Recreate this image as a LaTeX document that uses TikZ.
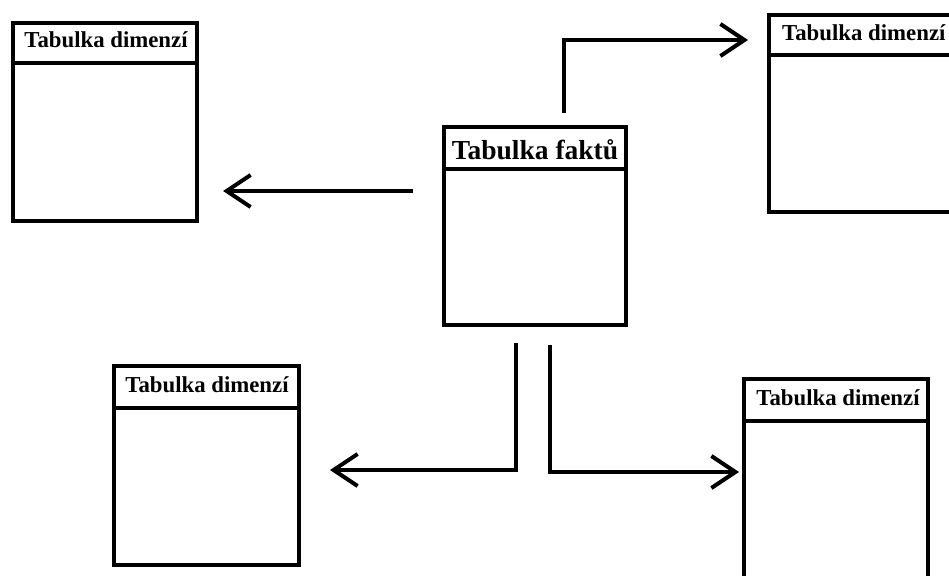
\documentclass[tikz,border=0pt]{standalone}
\usepackage{fontspec}
\setmainfont{Liberation Serif}
\usetikzlibrary{arrows.meta}
\begin{document}
\begin{tikzpicture}[x=1pt,y=-1pt,
  tbl/.style={draw=black, line width=4pt, inner sep=0pt, rectangle},
  divider/.style={draw=black, line width=4pt},
  dimtitle/.style={anchor=base, inner sep=0pt, font=\fontsize{22.8}{22.8}\selectfont\bfseries},
  facttitle/.style={anchor=base, inner sep=0pt, font=\fontsize{27.5}{27.5}\selectfont\bfseries},
  conn/.style={draw=black, line width=4pt, line join=miter, -{Straight Barb[length=24pt,width=32pt]}}]
\useasboundingbox (0,0) rectangle (949,575);
\clip (0,0) rectangle (949,575);
\fill[white] (0,0) rectangle (949,575);
% boxes
\node[tbl, minimum width=184pt, minimum height=198pt] (d1) at (105,122) {};
\node[tbl, minimum width=182pt, minimum height=198pt] (fact) at (535,226) {};
\node[tbl, minimum width=216pt, minimum height=197pt] (d2) at (877,113.5) {};
\node[tbl, minimum width=185pt, minimum height=199pt] (d3) at (206.5,465.5) {};
\node[tbl, minimum width=184pt, minimum height=241pt] (d4) at (836,499.5) {};
% dividers
\draw[divider] (d1.west |- 0,63) -- (d1.east |- 0,63);
\draw[divider] (fact.west |- 0,169) -- (fact.east |- 0,169);
\draw[divider] (d2.west |- 0,55) -- (d2.east |- 0,55);
\draw[divider] (d3.west |- 0,408) -- (d3.east |- 0,408);
\draw[divider] (d4.west |- 0,421) -- (d4.east |- 0,421);
% titles
\node[dimtitle] (t1) at (106,48) {Tabulka dimenzí};
\node[facttitle] (tf) at (535,159) {Tabulka faktů};
\node[dimtitle, anchor=base west] (t2) at (782,41) {Tabulka dimenzí};
\node[dimtitle] (t3) at (207,392) {Tabulka dimenzí};
\node[dimtitle] (t4) at (838,405) {Tabulka dimenzí};
% connector end points
\coordinate (aL1) at (413,191);
\coordinate (aL2) at (223,191);
\coordinate (aU1) at (564,113);
\coordinate (aU2) at (564,40);
\coordinate (aU3) at (748,40);
\coordinate (aB1) at (516,343);
\coordinate (aB2) at (516,470);
\coordinate (aB3) at (330,470);
\coordinate (aR1) at (550,345);
\coordinate (aR2) at (550,472);
\coordinate (aR3) at (739,472);
% connectors
\draw[conn] (aL1) -- (aL2);
\draw[conn] (aU1) -- (aU2) -- (aU3);
\draw[conn] (aB1) -- (aB2) -- (aB3);
\draw[conn] (aR1) -- (aR2) -- (aR3);
\end{tikzpicture}
\end{document}
